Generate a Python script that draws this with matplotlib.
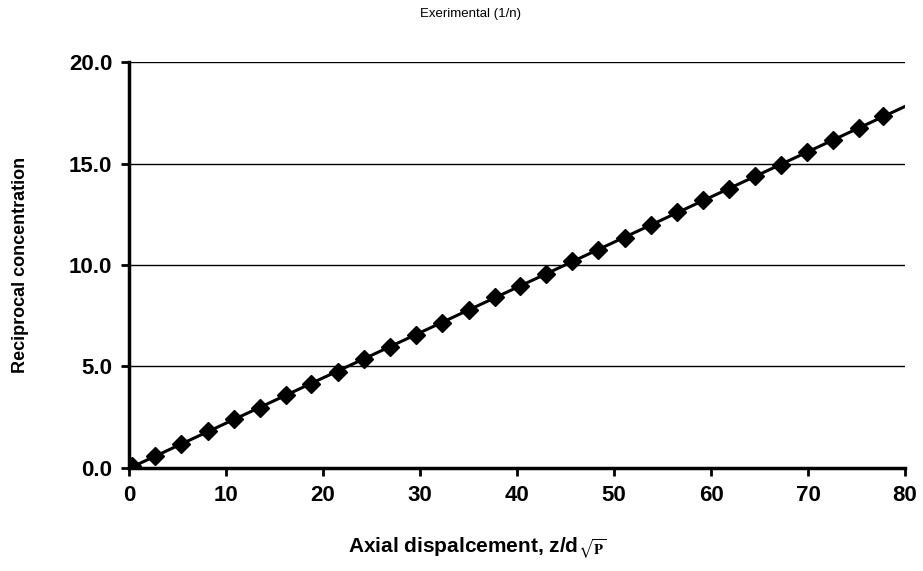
import matplotlib
matplotlib.use('Agg')
import matplotlib.pyplot as plt
import numpy as np

z = [0.3, 2.7, 5.4, 8.1, 10.8, 13.5, 16.2, 18.8, 21.5, 24.2,
     26.9, 29.6, 32.3, 35.0, 37.7, 40.3, 43.0, 45.7, 48.4, 51.1,
     53.8, 56.5, 59.2, 61.9, 64.5, 67.2, 69.9, 72.6, 75.3, 77.7]
recip = [0.1, 0.6, 1.2, 1.8, 2.4, 2.95, 3.6, 4.15, 4.75, 5.35,
         5.95, 6.55, 7.15, 7.8, 8.4, 8.95, 9.55, 10.2, 10.75, 11.35,
         11.95, 12.6, 13.2, 13.75, 14.4, 14.95, 15.55, 16.15, 16.75, 17.35]
yticks = [0, 5, 10, 15, 20]
xticks = [0, 10, 20, 30, 40, 50, 60, 70, 80]

plt.rcParams['font.family'] = ['Liberation Sans', 'DejaVu Sans']
plt.rcParams['mathtext.fontset'] = 'stix'

fig = plt.figure(figsize=(9.23, 5.71), dpi=100)
ax = fig.add_axes([0.1398, 0.1804, 0.8407, 0.711])

# linear fit through the points
k, b = np.polyfit(z, recip, 1)
xl = np.array([0, 80])
ax.plot(xl, k * xl + b, color='black', lw=2.2, zorder=3)
ax.plot(z, recip, 'D', color='black', ms=9.5, zorder=4)

ax.set_xlim(0, 80)
ax.set_ylim(0, 20)
ax.set_xticks(xticks)
ax.set_yticks(yticks)
ax.set_yticklabels(['%.1f' % v for v in yticks])
ax.yaxis.grid(True, color='black', lw=1)
ax.set_axisbelow(True)

for s in ['top', 'right']:
    ax.spines[s].set_visible(False)
for s in ['left', 'bottom']:
    ax.spines[s].set_linewidth(2.5)
ax.tick_params(direction='out', length=6, width=2, labelsize=16, pad=6)
for lab in ax.get_xticklabels() + ax.get_yticklabels():
    lab.set_fontweight('bold')

ax.set_ylabel('Reciprocal concentration', fontsize=13, fontweight='bold', va='center')
ax.yaxis.set_label_coords(-0.14, 0.5)
ax.set_xlabel(r'Axial dispalcement, z/d$_{\sqrt{\mathbf{P}}}$', fontsize=15,
              fontweight='bold', va='center')
ax.xaxis.set_label_coords(0.448, -0.197)
fig.text(0.51, 0.975, 'Exerimental (1/n)', ha='center', va='center', fontsize=9.5)

fig.savefig('out.png', dpi=100)
